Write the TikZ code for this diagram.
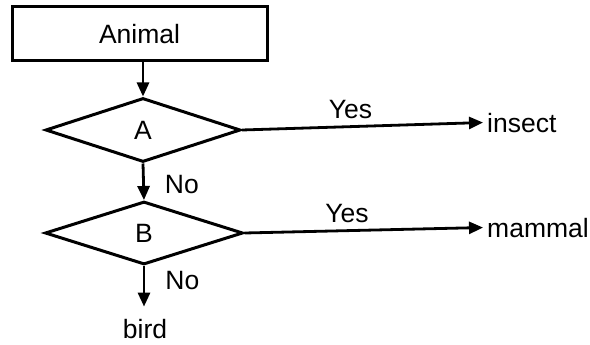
\documentclass[tikz,border=0pt]{standalone}
\usepackage{fontspec}
\setmainfont{Liberation Sans}
\usetikzlibrary{shapes.geometric,arrows.meta}
\begin{document}
\begin{tikzpicture}[x=1pt,y=-1pt,
  txt/.style={font=\fontsize{26.5}{30}\selectfont, inner sep=0pt},
  box/.style={draw, line width=3pt, minimum width=255pt, minimum height=54pt, inner sep=0pt, font=\fontsize{26.5}{30}\selectfont},
  dia/.style={draw, shape=diamond, line width=3pt, inner sep=0pt, font=\fontsize{26.5}{30}\selectfont},
  arr/.style={line width=2.8pt, -{Triangle[length=14pt,width=12pt]}},
  ]
\useasboundingbox (0,0) rectangle (590,345);
\node[box] (animal) at (139.5,34) {Animal};
\node[dia, minimum width=195pt, minimum height=64pt] (A) at (143,130) {A};
\node[dia, minimum width=198pt, minimum height=63pt] (B) at (144,233) {B};
\node[txt, anchor=base west, inner xsep=4pt] (insect) at (483,132) {insect};
\node[txt, anchor=base west, inner xsep=4pt] (mammal) at (483,237) {mammal};
\node[txt, anchor=base, inner ysep=12pt] (bird) at (145,338) {bird};
\draw[arr] (A.north |- animal.south) -- (A.north);
\draw[arr] (A.south) -- (B.north) node[txt, midway, anchor=west, xshift=20pt, yshift=-3pt] (no1) {No};
\draw[arr] (B.south) -- (B.south |- bird.north) node[txt, pos=0.35, anchor=west, xshift=20pt] (no2) {No};
\draw[arr] (A.east) -- (insect.west) node[txt, pos=0.45, anchor=south, yshift=6pt] (yes1) {Yes};
\draw[arr] (B.east) -- (mammal.west) node[txt, pos=0.43, anchor=south, yshift=6pt] (yes2) {Yes};
\end{tikzpicture}
\end{document}
